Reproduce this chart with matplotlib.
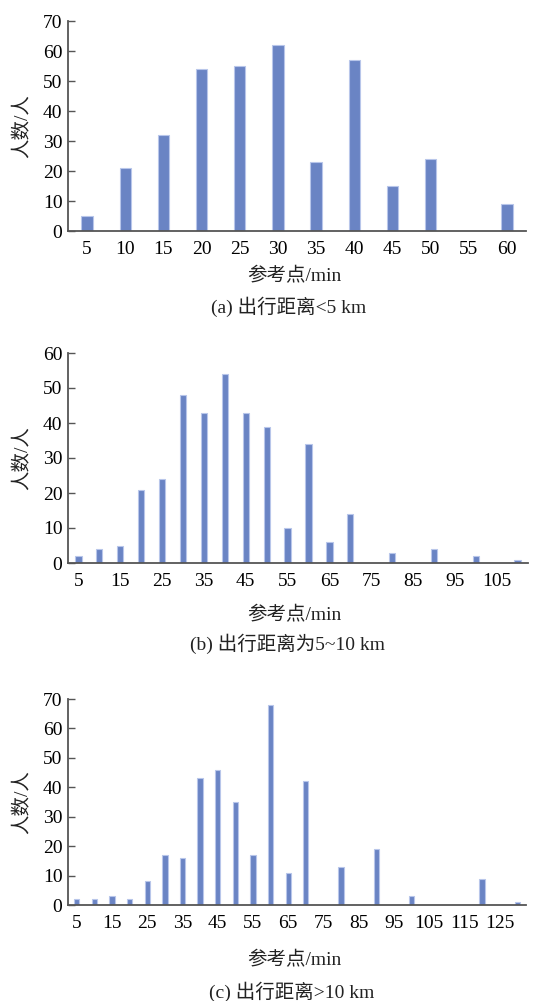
import numpy as np
import matplotlib.pyplot as plt

fam = ['Liberation Serif', 'Noto Sans CJK SC']
plt.rcParams['font.family'] = fam

# panel (a) 出行距离<5 km
cats_a = [5, 10, 15, 20, 25, 30, 35, 40, 45, 50, 55, 60]
vals_a = [5, 21, 32, 54, 55, 62, 23, 57, 15, 24, 0, 9]
# panel (b) 出行距离为5~10 km
cats_b = list(range(5, 115, 5))
vals_b = [2, 4, 5, 21, 24, 48, 43, 54, 43, 39, 10, 34, 6, 14, 0, 3, 0, 4, 0, 2, 0, 1]
# panel (c) 出行距离>10 km
cats_c = list(range(5, 135, 5))
vals_c = [2, 2, 3, 2, 8, 17, 16, 43, 46, 35, 17, 68, 11, 42, 0, 13, 0, 19, 0, 3,
          0, 0, 0, 9, 0, 1]

panels = [
    (cats_a, vals_a, 70, 1, '(a) 出行距离<5 km'),
    (cats_b, vals_b, 60, 2, '(b) 出行距离为5~10 km'),
    (cats_c, vals_c, 70, 2, '(c) 出行距离>10 km'),
]

W, H = 533, 1001
fig = plt.figure(figsize=(W / 100, H / 100), dpi=100)

# axes boxes in pixels: left, top, right, bottom
boxes = [(68, 21, 526, 231), (68, 353, 528, 563), (68, 699, 526, 905)]
xlab_pos = [(294, 276), (294, 615), (294, 960)]
cap_pos = [(289, 307), (288, 644), (292, 992)]

bar_col = '#6a84c4'
edge_col = '#b8c6ea'
spine_col = '#555555'

for (cats, vals, ymax, step, cap), (l, t, r, b), (xx, xy), (cx, cy) in zip(panels, boxes, xlab_pos, cap_pos):
    ax = fig.add_axes([l / W, 1 - b / H, (r - l) / W, (b - t) / H])
    x = np.arange(len(cats))
    ax.bar(x, vals, width=0.3, color=bar_col, edgecolor=edge_col, linewidth=0.8)
    ax.set_xlim(-0.5, len(cats) - 0.5)
    ax.set_ylim(0, ymax)
    ax.set_yticks(np.arange(0, ymax + 1, 10))
    ax.set_xticks(x[::step])
    ax.set_xticklabels([str(c) for c in cats[::step]])
    ax.tick_params(axis='y', direction='in', length=5, width=1, color=spine_col,
                   labelsize=14, pad=4)
    ax.tick_params(axis='x', length=0, labelsize=14, pad=7)
    for s in ['top', 'right']:
        ax.spines[s].set_visible(False)
    for s in ['left', 'bottom']:
        ax.spines[s].set_color(spine_col)
        ax.spines[s].set_linewidth(1.3)
    ax.set_ylabel('人数/人', fontsize=14, color='#222222', labelpad=8)
    fig.text(xx / W, 1 - xy / H, '参考点/min', ha='center', va='center',
             fontsize=14, color='#222222')
    fig.text(cx / W, 1 - cy / H, cap, ha='center', va='center',
             fontsize=14, color='#222222')

fig.savefig('out.png', dpi=100, facecolor='white')
